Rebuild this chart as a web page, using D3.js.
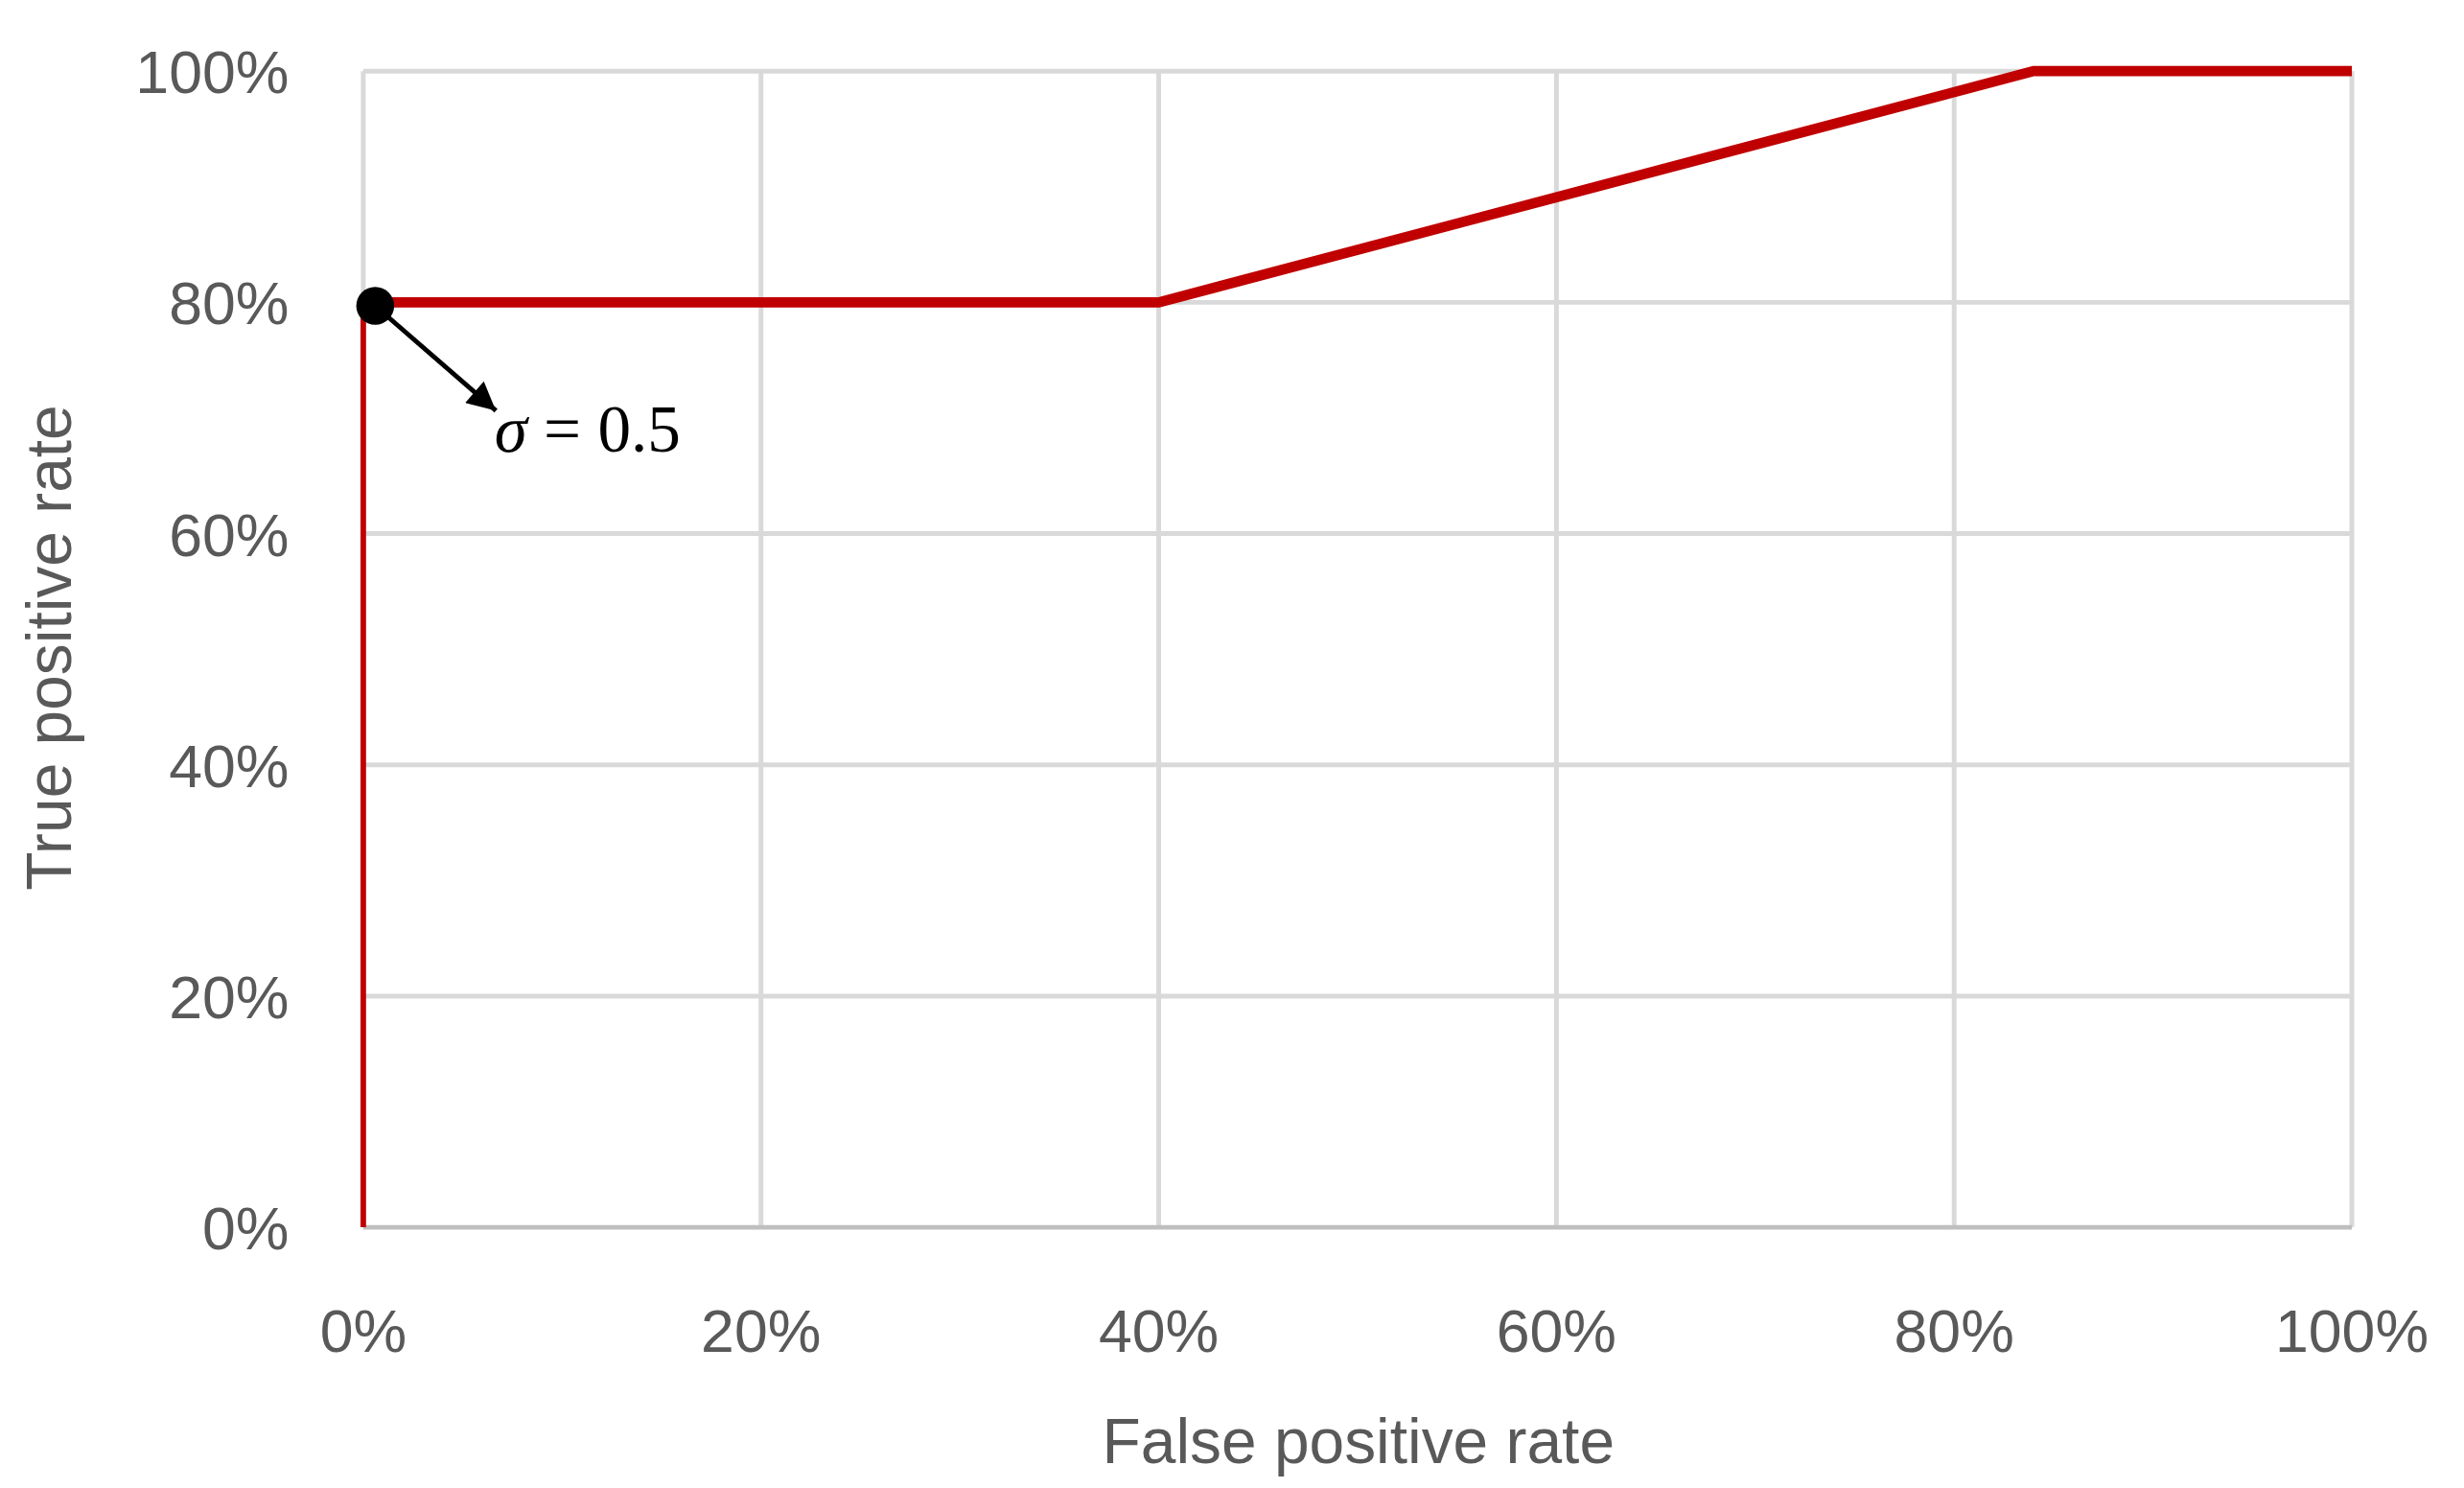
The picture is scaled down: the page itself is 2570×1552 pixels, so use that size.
<!DOCTYPE html>
<html><head><meta charset="utf-8">
<script src="https://cdn.jsdelivr.net/npm/d3@7"></script>
<style>body{margin:0;background:#fff}</style>
</head><body>
<script>
const fpr = [0, 0, 0.4, 0.84, 1]
const tpr = [0, 0.8, 0.8, 1, 1]
const ticks = [0, 0.2, 0.4, 0.6, 0.8, 1]
const marker = {x: 0.006, y: 0.797, label: "σ = 0.5"}

const svg = d3.select("body").append("svg")
  .attr("width", 2570).attr("height", 1552)
  .attr("viewBox", "0 0 1560 942")

const x = d3.scaleLinear().domain([0, 1]).range([230, 1489])
const y = d3.scaleLinear().domain([0, 1]).range([777, 45])
const fmt = d3.format(".0%")
const font = "'Liberation Sans', Arial, sans-serif"

// grid
svg.selectAll(".gx").data(ticks).enter().append("line")
  .attr("x1", d => x(d)).attr("x2", d => x(d))
  .attr("y1", y(0)).attr("y2", y(1))
  .attr("stroke", "#d9d9d9").attr("stroke-width", 3)
svg.selectAll(".gy").data(ticks).enter().append("line")
  .attr("x1", x(0)).attr("x2", x(1))
  .attr("y1", d => y(d)).attr("y2", d => y(d))
  .attr("stroke", d => d === 0 ? "#bfbfbf" : "#d9d9d9").attr("stroke-width", 3)

// tick labels
svg.selectAll(".ty").data(ticks).enter().append("text")
  .attr("x", 183).attr("y", d => y(d) + 14)
  .attr("text-anchor", "end").attr("font-family", font).attr("font-size", 38)
  .attr("fill", "#595959").text(fmt)
svg.selectAll(".tx").data(ticks).enter().append("text")
  .attr("x", d => x(d)).attr("y", 856)
  .attr("text-anchor", "middle").attr("font-family", font).attr("font-size", 38)
  .attr("fill", "#595959").text(fmt)

svg.append("text").attr("x", 860).attr("y", 926)
  .attr("text-anchor", "middle").attr("font-family", font).attr("font-size", 40)
  .attr("fill", "#595959").text("False positive rate")
svg.append("text").attr("transform", "translate(45,410) rotate(-90)")
  .attr("text-anchor", "middle").attr("font-family", font).attr("font-size", 40)
  .attr("fill", "#595959").text("True positive rate")

// curve: vertical segment thinner, rest thick
const pts = fpr.map((d, i) => [d, tpr[i]])
const line = d3.line().x(d => x(d[0])).y(d => y(d[1]))
svg.append("path").attr("d", line(pts.slice(0, 2)))
  .attr("fill", "none").attr("stroke", "#c00000").attr("stroke-width", 3.5)
svg.append("path").attr("d", line(pts.slice(1)))
  .attr("fill", "none").attr("stroke", "#c00000").attr("stroke-width", 6.5)

// annotation
svg.append("defs").append("marker").attr("id", "ah")
  .attr("viewBox", "0 0 10 10").attr("refX", 10).attr("refY", 5)
  .attr("markerWidth", 8).attr("markerHeight", 6).attr("orient", "auto")
  .attr("markerUnits", "strokeWidth")
  .append("path").attr("d", "M0,0 L10,5 L0,10 Z").attr("fill", "#000")
svg.append("line")
  .attr("x1", x(marker.x)).attr("y1", y(marker.y))
  .attr("x2", 314).attr("y2", 260)
  .attr("stroke", "#000").attr("stroke-width", 3).attr("marker-end", "url(#ah)")
svg.append("circle").attr("cx", x(marker.x)).attr("cy", y(marker.y))
  .attr("r", 12).attr("fill", "#000")
svg.append("text").attr("x", 313).attr("y", 286)
  .attr("font-family", "'Liberation Serif', 'DejaVu Serif', serif").attr("font-size", 42)
  .attr("fill", "#000")
  .html("<tspan font-style='italic'>σ</tspan> = 0.5")
</script>
</body></html>
